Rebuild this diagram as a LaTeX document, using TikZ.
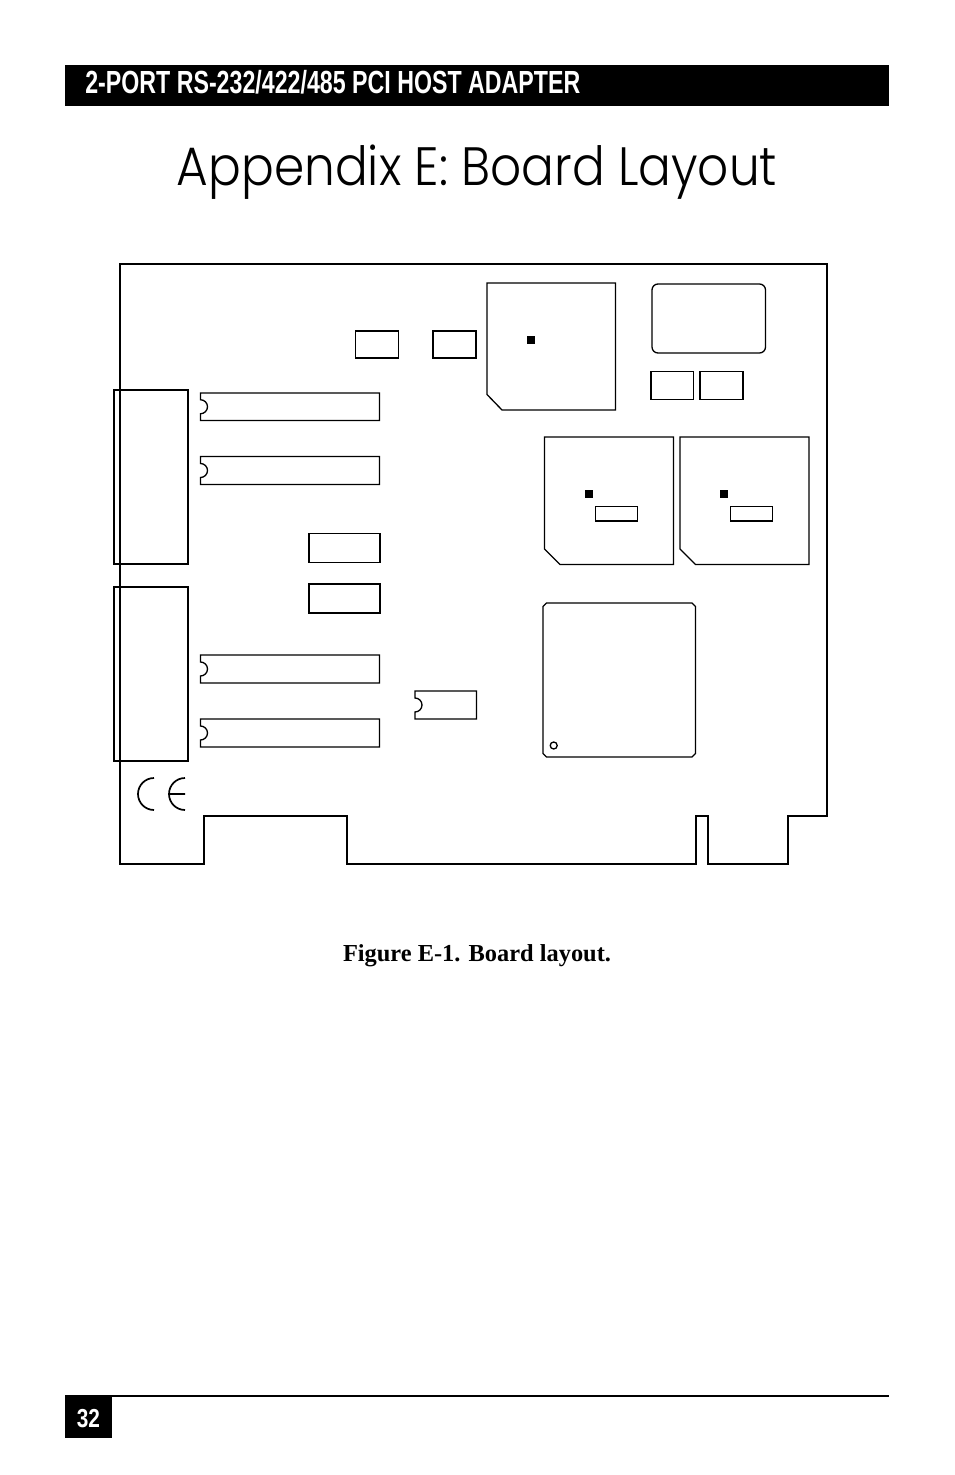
\documentclass[tikz,border=0pt]{standalone}
\usepackage{fontspec}
\setmainfont{Liberation Serif}
\newfontfamily\headfont{Liberation Sans}
\newfontfamily\titlefont{Poppins Light}
\tikzset{%
x=0.5pt,y=-0.5pt,
board/.style={draw,line width=1.1pt},
socket/.style={draw,line width=0.85pt},
part/.style={draw,line width=0.65pt},
heavypart/.style={draw,line width=1.05pt},
pin/.style={fill=black},
headtext/.style={font=\headfont\bfseries\fontsize{16}{18}\selectfont,text=white,inner sep=0,anchor=base west},
pagetitle/.style={font=\titlefont\fontsize{27}{32}\selectfont,inner sep=0,anchor=base},
caption/.style={font=\bfseries\fontsize{12.2}{14}\selectfont,inner sep=0,anchor=base}
}
% notched dip outline: left, top, right, bottom
\newcommand{\dipchip}[4]{%
  \draw[part] (#1,#2) -- (#3,#2) -- (#3,#4) -- (#1,#4) -- (#1,{(#2+#4)/2+7})
    arc[start angle=-90,end angle=90,x radius=7,y radius=-7] -- cycle;}
% square chip with a cut corner
\newcommand{\qfpchip}[1]{%
  \draw[part] (#1,437) -- ++(129,0) -- ++(0,127.5) -- ++(-113.5,0) -- ++(-15.5,-15.5) -- cycle;}
\begin{document}
\begin{tikzpicture}

    \useasboundingbox (0,0) rectangle (954,1475);

    % page furniture
    \fill (65,65) rectangle (889,106);
    \node[headtext,xscale=0.725] (head) at (85,94) {2-PORT RS-232/422/485 PCI HOST ADAPTER};
    \node[pagetitle,xscale=0.9] (title) at (477,186) {Appendix E: Board Layout};
    \node[caption] (cap) at (477,961) {Figure E-1. Board layout.};
    \draw[line width=0.7pt] (65,1396) -- (889,1396);
    \fill (65,1396) rectangle (112,1438);
    \node[headtext,font=\headfont\bfseries\fontsize{13}{15}\selectfont,anchor=base,xscale=0.8] (pageno) at (88.5,1427) {32};

    % board
    \draw[board] (120,264) -- (827,264) -- (827,816) -- (788,816) -- (788,864)
      -- (708,864) -- (708,816) -- (696,816) -- (696,864) -- (347,864)
      -- (347,816) -- (204,816) -- (204,864) -- (120,864) -- cycle;

    % connectors
    \draw[socket] (114,390) rectangle (188,564);
    \draw[socket] (114,587) rectangle (188,761);

    % sockets
    \dipchip{200.5}{393}{379.5}{420.5}
    \dipchip{200.5}{456.5}{379.5}{484.5}
    \dipchip{200.5}{655}{379.5}{683}
    \dipchip{200.5}{719}{379.5}{747}
    \dipchip{415}{691}{476.5}{719}

    % plain parts
    \foreach \l/\t/\r/\b in {355.5/331/398.5/358, 433/331/476/358, 309/533.5/380/562.5,
      651/371.5/693.5/399.5, 700/371.5/743/399.5, 595.5/506.5/637.5/521, 730.5/506.5/772.5/521}
      \draw[part] (\l,\t) rectangle (\r,\b);
    \draw[heavypart] (309,584) rectangle (380,613);

    % big chips
    \draw[part] (487,283) -- (615.5,283) -- (615.5,410) -- (502,410) -- (487,394.5) -- cycle;
    \qfpchip{544.5}
    \qfpchip{680}
    \draw[part,rounded corners=3pt] (652,284) rectangle (765.5,353);
    \draw[part] (546.5,603) -- (692,603) -- (695.5,606.5) -- (695.5,753.5) -- (692,757)
      -- (546.5,757) -- (543,753.5) -- (543,606.5) -- cycle;
    \draw[part] (553.7,745.5) circle[radius=3.5];

    % pin one marks
    \foreach \px/\py in {531/340, 589/494, 724/494}
      \fill[pin] (\px-4,\py-4) rectangle (\px+4,\py+4);

    % CE sign
    \draw[socket] (154,778) arc[start angle=-90,end angle=-270,radius=16];
    \draw[socket] (185,778) arc[start angle=-90,end angle=-270,radius=16] (169,794) -- (185,794);

\end{tikzpicture}
\end{document}
